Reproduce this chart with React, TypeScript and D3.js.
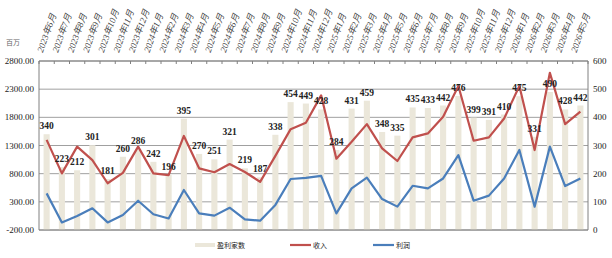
import React from "react";
import * as d3 from "d3";

// Monthly categories
const months: string[] = [
  "2023年6月", "2023年7月", "2023年8月", "2023年9月", "2023年10月", "2023年11月", "2023年12月",
  "2024年1月", "2024年2月", "2024年3月", "2024年4月", "2024年5月", "2024年6月", "2024年7月",
  "2024年8月", "2024年9月", "2024年10月", "2024年11月", "2024年12月",
  "2025年1月", "2025年2月", "2025年3月", "2025年4月", "2025年5月", "2025年6月", "2025年7月",
  "2025年8月", "2025年9月", "2025年10月", "2025年11月", "2025年12月",
  "2026年1月", "2026年2月", "2026年3月", "2026年4月", "2026年5月",
];

// 盈利家数 (right axis)
const profitableCount: number[] = [
  340, 223, 212, 301, 181, 260, 286, 242, 196, 395, 270, 251, 321, 219, 187, 338, 454, 449,
  428, 284, 431, 459, 348, 335, 435, 433, 442, 476, 399, 391, 410, 475, 331, 490, 428, 442,
];

// 收入, 百万 (left axis)
const revenue: number[] = [
  1400, 805, 1280, 1040, 630, 815, 1280, 805, 775, 1470, 895, 825, 970, 830, 655, 1115, 1590, 1705,
  2190, 1065, 1365, 1680, 1250, 1025, 1445, 1515, 1810, 2355, 1385, 1445, 1780, 2355, 1220, 2590, 1680, 1900,
];

// 利润, 百万 (left axis)
const profit: number[] = [
  450, -65, 50, 185, -65, 65, 320, 80, 5, 510, 95, 55, 195, -10, -35, 245, 705, 725,
  760, 95, 540, 730, 350, 215, 585, 540, 715, 1130, 320, 410, 715, 1220, 215, 1280, 580, 715,
];

const leftTicks: number[] = [-200, 300, 800, 1300, 1800, 2300, 2800];
const rightTicks: number[] = [0, 100, 200, 300, 400, 500, 600];

const W = 612;
const H = 258;
const M = { left: 39, right: 588, top: 61, bottom: 230 };

const SERIF = "'Liberation Serif', 'DejaVu Serif', 'Noto Sans CJK SC', serif";
const CJK = "'Noto Sans CJK SC', sans-serif";

export default function App() {
  const x = d3.scaleBand<string>().domain(months).range([M.left, M.right]).padding(0);
  const xBar = d3.scaleBand<string>().domain(months).range([M.left, M.right]).paddingInner(0.6).paddingOuter(0.3);
  const yL = d3.scaleLinear().domain([-200, 2800]).range([M.bottom, M.top]);
  const yR = d3.scaleLinear().domain([0, 600]).range([M.bottom, M.top]);
  const cx = (m: string) => (x(m) ?? 0) + x.bandwidth() / 2;

  const line = d3
    .line<number>()
    .x((_, i) => cx(months[i]))
    .y((d) => yL(d));

  const boundaries = months.map((m) => x(m) ?? 0).concat([M.right]);

  return (
    <svg
      width={W}
      height={H}
      style={{ position: "absolute", left: 0, top: 0, display: "block", background: "#fff" }}
    >
      {/* gridlines */}
      {leftTicks.map((t) => (
        <line key={"g" + t} x1={M.left} x2={M.right} y1={yL(t)} y2={yL(t)} stroke="#a0a0a0" strokeWidth={1} />
      ))}

      {/* bars */}
      {profitableCount.map((v, i) => (
        <rect
          key={"b" + i}
          x={xBar(months[i])}
          width={xBar.bandwidth()}
          y={yR(v)}
          height={yR(0) - yR(v)}
          fill="#ebe7da"
        />
      ))}

      {/* frame */}
      <line x1={M.left} x2={M.left} y1={M.top} y2={M.bottom} stroke="#808080" />
      <line x1={M.right} x2={M.right} y1={M.top} y2={M.bottom} stroke="#808080" />
      <line x1={M.left} x2={M.right} y1={M.bottom} y2={M.bottom} stroke="#808080" />
      <line x1={M.left} x2={M.right} y1={M.top} y2={M.top} stroke="#808080" />
      {boundaries.map((b, i) => (
        <line key={"t" + i} x1={b} x2={b} y1={M.top} y2={M.top + 3} stroke="#808080" />
      ))}

      {/* lines */}
      <path d={line(revenue) ?? ""} fill="none" stroke="#c0504d" strokeWidth={2.2} strokeLinejoin="round" />
      <path d={line(profit) ?? ""} fill="none" stroke="#4a7ebb" strokeWidth={2.2} strokeLinejoin="round" />

      {/* bar value labels */}
      {profitableCount.map((v, i) => (
        <text
          key={"v" + i}
          x={cx(months[i])}
          y={yR(v) - 5}
          textAnchor="middle"
          fontFamily={SERIF}
          fontSize={9.5}
          fontWeight="bold"
          fill="#222"
        >
          {v}
        </text>
      ))}

      {/* left axis labels */}
      {leftTicks.map((t) => (
        <text
          key={"l" + t}
          x={M.left - 5}
          y={yL(t) + 3}
          textAnchor="end"
          fontFamily={SERIF}
          fontSize={9}
          fill="#222"
        >
          {t.toFixed(2)}
        </text>
      ))}

      {/* right axis labels */}
      {rightTicks.map((t) => (
        <text
          key={"r" + t}
          x={M.right + 5}
          y={yR(t) + 3}
          textAnchor="start"
          fontFamily={SERIF}
          fontSize={9}
          fill="#222"
        >
          {t}
        </text>
      ))}

      {/* month labels */}
      {months.map((m) => (
        <text
          key={"m" + m}
          transform={`translate(${cx(m) - 4},${53}) rotate(-70)`}
          textAnchor="start"
          fontFamily={SERIF}
          fontSize={9}
          fontStyle="italic"
          fill="#444"
        >
          {m}
        </text>
      ))}

      {/* unit */}
      <text x={6} y={45} fontFamily={CJK} fontSize={7} fill="#666">
        百万
      </text>

      {/* legend */}
      <g fontFamily={CJK} fontSize={7} fill="#222">
        <rect x={195} y={243} width={20} height={4} fill="#ebe7da" />
        <text x={217} y={247.5}>盈利家数</text>
        <line x1={290} x2={311} y1={245} y2={245} stroke="#c0504d" strokeWidth={2.2} />
        <text x={313} y={247.5}>收入</text>
        <line x1={373} x2={394} y1={245} y2={245} stroke="#4a7ebb" strokeWidth={2.2} />
        <text x={396} y={247.5}>利润</text>
      </g>
    </svg>
  );
}
